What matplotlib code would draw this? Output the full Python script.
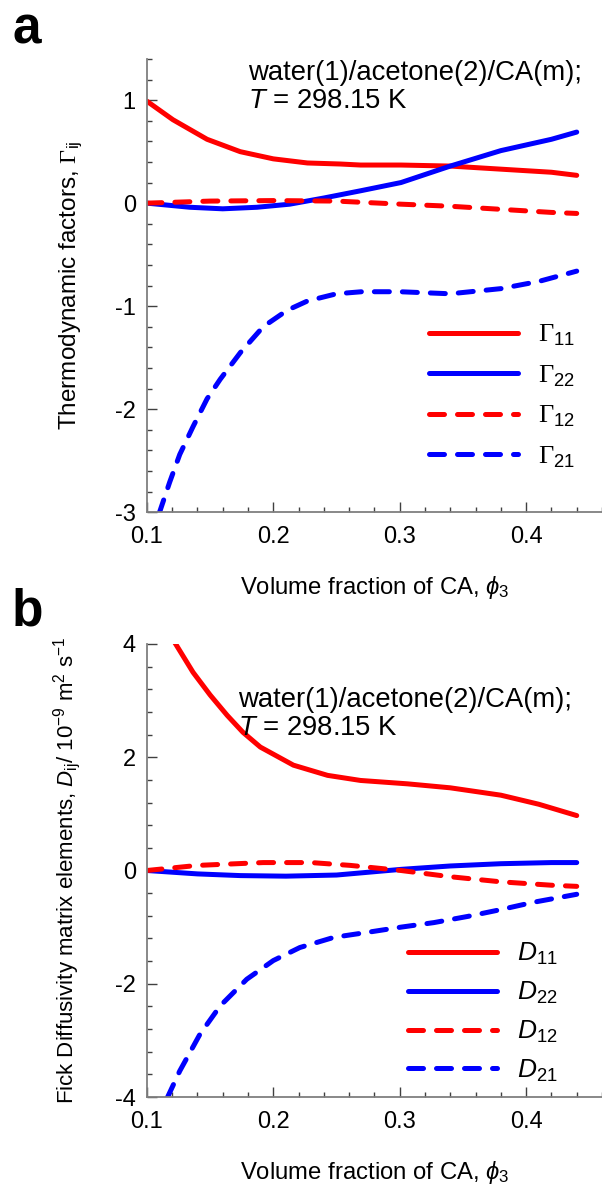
import numpy as np
import matplotlib
matplotlib.use('Agg')
import matplotlib.pyplot as plt
from matplotlib.ticker import MultipleLocator

plt.rcParams['font.family'] = ['Liberation Sans', 'DejaVu Sans']
plt.rcParams['mathtext.fontset'] = 'custom'
plt.rcParams['mathtext.rm'] = 'Liberation Sans'
plt.rcParams['mathtext.it'] = 'Liberation Sans:italic'
plt.rcParams['mathtext.sf'] = 'Liberation Serif'
plt.rcParams['axes.unicode_minus'] = False

# panel a: thermodynamic factors vs volume fraction of CA
x_g11 = [0.10, 0.1206, 0.1476, 0.1738, 0.20, 0.227, 0.253, 0.269, 0.301, 0.34,
         0.38, 0.42, 0.44]
g11 = [0.99, 0.81, 0.62, 0.50, 0.43, 0.39, 0.38, 0.37, 0.37, 0.36, 0.33, 0.30, 0.27]
x_g22 = [0.10, 0.134, 0.160, 0.187, 0.213, 0.24, 0.269, 0.301, 0.34, 0.38, 0.42, 0.44]
g22 = [0.00, -0.04, -0.055, -0.04, -0.01, 0.05, 0.12, 0.20, 0.36, 0.51, 0.62, 0.69]
x_g12 = [0.10, 0.15, 0.20, 0.25, 0.301, 0.34, 0.38, 0.42, 0.44]
g12 = [0.00, 0.02, 0.025, 0.02, -0.01, -0.03, -0.06, -0.09, -0.10]
x_g21 = [0.1095, 0.118, 0.126, 0.1365, 0.1476, 0.158, 0.174, 0.192, 0.211, 0.227,
         0.25, 0.27, 0.30, 0.34, 0.38, 0.41, 0.44]
g21 = [-3.02, -2.71, -2.44, -2.17, -1.90, -1.71, -1.45, -1.20, -1.04, -0.95,
       -0.88, -0.86, -0.86, -0.88, -0.83, -0.76, -0.66]

# panel b: Fick diffusivity matrix elements (1e-9 m2/s)
x_d11 = [0.1222, 0.1365, 0.15, 0.1635, 0.176, 0.1897, 0.2159, 0.2429, 0.269,
         0.3063, 0.34, 0.38, 0.41, 0.44]
d11 = [4.02, 3.50, 3.10, 2.74, 2.44, 2.18, 1.86, 1.68, 1.59, 1.53, 1.46, 1.33,
       1.17, 0.97]
x_d22 = [0.10, 0.14, 0.174, 0.21, 0.25, 0.301, 0.34, 0.38, 0.42, 0.44]
d22 = [0.00, -0.06, -0.09, -0.10, -0.08, 0.02, 0.08, 0.12, 0.14, 0.14]
x_d12 = [0.10, 0.14, 0.192, 0.23, 0.261, 0.301, 0.34, 0.38, 0.42, 0.44]
d12 = [0.00, 0.09, 0.14, 0.14, 0.09, 0.00, -0.11, -0.20, -0.26, -0.28]
x_d21 = [0.116, 0.126, 0.142, 0.158, 0.179, 0.20, 0.221, 0.248, 0.275, 0.301,
         0.327, 0.354, 0.38, 0.406, 0.44]
d21 = [-4.02, -3.54, -2.89, -2.39, -1.92, -1.59, -1.36, -1.18, -1.09, -1.00,
       -0.92, -0.81, -0.69, -0.56, -0.42]

red = '#ff0000'
blue = '#0000ff'
lw = 3.6
dash = (3.0, 2.6)

fig = plt.figure(figsize=(6.02, 11.91), dpi=100)
ax1 = fig.add_axes([0.244, 0.570, 0.756, 0.3805])
ax2 = fig.add_axes([0.244, 0.0789, 0.756, 0.3804])


def style(ax):
    for s in ['top', 'right']:
        ax.spines[s].set_visible(False)
    for s in ['left', 'bottom']:
        ax.spines[s].set_color('#7f7f7f')
        ax.spines[s].set_linewidth(1.3)
    ax.xaxis.set_major_locator(MultipleLocator(0.1))
    ax.xaxis.set_minor_locator(MultipleLocator(0.02))
    ax.tick_params(which='both', direction='in', color='#404040', width=1.0,
                   labelsize=17)
    ax.tick_params(which='major', length=7)
    ax.tick_params(which='minor', length=3.6)
    ax.tick_params(axis='x', pad=10)
    ax.tick_params(axis='y', pad=8)
    ax.set_xlim(0.1, 0.46)
    ax.set_xticks([0.1, 0.2, 0.3, 0.4])
    ax.set_xticklabels(['0.1', '0.2', '0.3', '0.4'])
    ax.set_xlabel(r'Volume fraction of CA, $\phi_3$', fontsize=17.2, labelpad=19)


kw = dict(lw=lw, solid_capstyle='round', dash_capstyle='round')

ax1.plot(x_g11, g11, color=red, label=r'$\mathsf{\Gamma}_{11}$', **kw)
ax1.plot(x_g22, g22, color=blue, label=r'$\mathsf{\Gamma}_{22}$', **kw)
ax1.plot(x_g12, g12, color=red, ls=(0, dash), label=r'$\mathsf{\Gamma}_{12}$', **kw)
ax1.plot(x_g21, g21, color=blue, ls=(0, dash), label=r'$\mathsf{\Gamma}_{21}$', **kw)
style(ax1)
ax1.set_ylim(-3, 1.4)
ax1.yaxis.set_major_locator(MultipleLocator(1))
ax1.yaxis.set_minor_locator(MultipleLocator(0.2))
ax1.set_ylabel(r'Thermodynamic factors, $\mathsf{\Gamma}_{\mathrm{ij}}$', fontsize=17.5)
ax1.yaxis.set_label_coords(-0.135, 0.5)
ax1.text(0.222, 0.954, 'water(1)/acetone(2)/CA(m);', transform=ax1.transAxes,
         fontsize=19.8, va='baseline')
ax1.text(0.222, 0.892, r'$T$ = 298.15 K', transform=ax1.transAxes,
         fontsize=19.8, va='baseline')
ax1.legend(loc='center left', bbox_to_anchor=(0.568, 0.255), frameon=False,
           fontsize=19, handlelength=3.37, handletextpad=0.76, labelspacing=0.58)

ax2.plot(x_d11, d11, color=red, label=r'$D_{11}$', **kw)
ax2.plot(x_d22, d22, color=blue, label=r'$D_{22}$', **kw)
ax2.plot(x_d12, d12, color=red, ls=(0, dash), label=r'$D_{12}$', **kw)
ax2.plot(x_d21, d21, color=blue, ls=(0, dash), label=r'$D_{21}$', **kw)
style(ax2)
ax2.set_ylim(-4, 4)
ax2.yaxis.set_major_locator(MultipleLocator(2))
ax2.yaxis.set_minor_locator(MultipleLocator(0.4))
ax2.set_ylabel(r'Fick Diffusivity matrix elements, $D_{\mathrm{ij}}$/ 10$^{-9}$ m$^2$ s$^{-1}$',
               fontsize=16)
ax2.yaxis.set_label_coords(-0.14, 0.5)
ax2.text(0.2, 0.861, 'water(1)/acetone(2)/CA(m);', transform=ax2.transAxes,
         fontsize=19.8, va='baseline')
ax2.text(0.2, 0.799, r'$T$ = 298.15 K', transform=ax2.transAxes,
         fontsize=19.8, va='baseline')
ax2.legend(loc='center left', bbox_to_anchor=(0.522, 0.1865), frameon=False,
           fontsize=19, handlelength=3.37, handletextpad=0.76, labelspacing=0.48)

fig.text(12 / 602, 1 - 43 / 1191, 'a', fontsize=37, fontweight='bold', va='baseline')
fig.text(12 / 602, 1 - 625 / 1191, 'b', fontsize=37, fontweight='bold', va='baseline')

fig.savefig('out.png', dpi=100)
